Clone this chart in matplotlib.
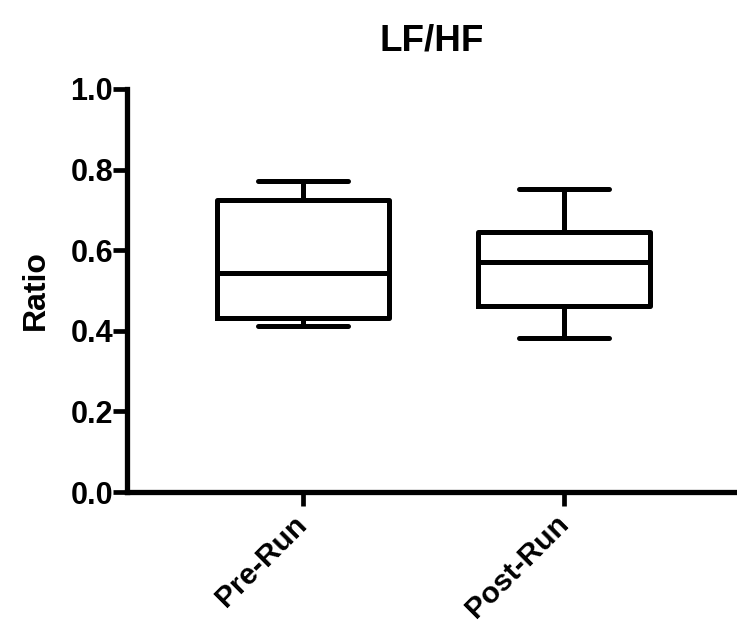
import matplotlib
matplotlib.use("Agg")
import matplotlib.pyplot as plt

plt.rcParams['font.family'] = ['Liberation Sans', 'DejaVu Sans']
plt.rcParams['font.weight'] = 'bold'

categories = ["Pre-Run", "Post-Run"]
whisker_low = [0.412, 0.382]
q1 = [0.432, 0.462]
median = [0.543, 0.571]
q3 = [0.725, 0.645]
whisker_high = [0.772, 0.752]

stats = []
for i, c in enumerate(categories):
    stats.append(dict(label=c, whislo=whisker_low[i], q1=q1[i], med=median[i],
                      q3=q3[i], whishi=whisker_high[i], fliers=[]))

fig = plt.figure(figsize=(7.37, 6.24), dpi=100)
ax = fig.add_axes([127/737, 1-492/624, 1-127/737, (492-89)/624])

lw = 3.6
ax.bxp(stats, positions=[1, 2], widths=0.66, showfliers=False,
       boxprops=dict(color='black', linewidth=lw),
       medianprops=dict(color='black', linewidth=lw),
       whiskerprops=dict(color='black', linewidth=lw),
       capprops=dict(color='black', linewidth=lw, solid_capstyle='round'),
       capwidths=0.345)

ax.set_xlim(0.326, 2.663)
ax.set_ylim(0, 1.0)
ax.set_yticks([0.0, 0.2, 0.4, 0.6, 0.8, 1.0])
ax.set_yticklabels([f"{v:.1f}" for v in [0.0, 0.2, 0.4, 0.6, 0.8, 1.0]])
ax.set_xticks([1, 2])
ax.set_xticklabels(categories, rotation=45, ha='right', va='center',
                   rotation_mode='anchor')

for s in ['top', 'right']:
    ax.spines[s].set_visible(False)
for s in ['left', 'bottom']:
    ax.spines[s].set_linewidth(3.8)
    ax.spines[s].set_capstyle('projecting')

ax.tick_params(axis='y', width=3.4, length=10, labelsize=22, pad=0)
ax.tick_params(axis='x', width=3.4, length=10, labelsize=21.5, pad=10)
for lab in ax.get_xticklabels() + ax.get_yticklabels():
    lab.set_fontweight('bold')

ax.set_ylabel("Ratio", fontsize=23, fontweight='bold', labelpad=14)
fig.text((127+737)/2/737, 1-41/624, "LF/HF", ha='center', va='center',
         fontsize=26.5, fontweight='bold')

fig.savefig("out.png", dpi=100)
